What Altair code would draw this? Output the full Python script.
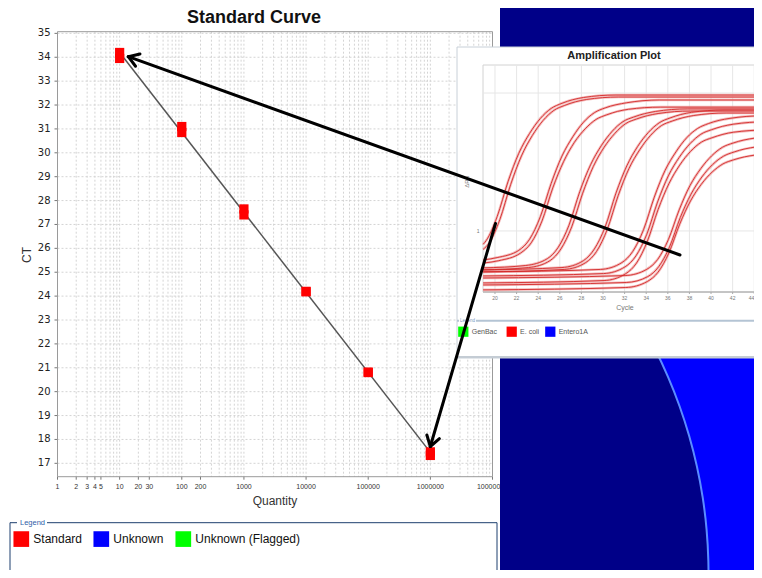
import math
import altair as alt
import numpy as np
import pandas as pd

# ---------------- data: standard curve ----------------
quantity = [10, 100, 1000, 10000, 100000, 1000000]
ct_rep1 = [34.2, 31.1, 27.65, 24.2, 20.82, 17.48]
ct_rep2 = [33.95, 30.85, 27.4, 24.18, 20.8, 17.33]
sample_types = ["Standard", "Unknown", "Unknown (Flagged)"]
type_colors = ["#ff0000", "#0000ff", "#00ff00"]
x_labelled = [1, 2, 3, 4, 5, 10, 20, 30, 100, 200, 1000, 10000, 100000, 1000000, 10000000]
x_grid = [k * 10 ** n for n in range(7) for k in range(1, 10)] + [10 ** 7]
y_ticks = list(range(17, 36))

# ---------------- data: amplification plot (inset) ----------------
amp_cycles = [
    [18.9, 19.2, 20.2, 21.2, 22.2, 23.2, 24.2, 25.2, 26.2, 28.2, 31.2, 47],
    [18.9, 19.45, 20.45, 21.45, 22.45, 23.45, 24.45, 25.45, 26.45, 28.45, 31.45, 47],
    [18.9, 20.2, 22.2, 23.2, 24.2, 25.2, 26.2, 27.2, 28.2, 29.2, 30.2, 32.2, 35.2, 47],
    [18.9, 20.35, 22.35, 23.35, 24.35, 25.35, 26.35, 27.35, 28.35, 29.35, 30.35, 32.35, 35.35, 47],
    [18.9, 22.85, 24.85, 25.85, 26.85, 27.85, 28.85, 29.85, 30.85, 31.85, 32.85, 34.85, 37.85, 47],
    [18.9, 23.1, 25.1, 26.1, 27.1, 28.1, 29.1, 30.1, 31.1, 32.1, 33.1, 35.1, 38.1, 47],
    [18.9, 26.2, 28.2, 29.2, 30.2, 31.2, 32.2, 33.2, 34.2, 35.2, 36.2, 38.2, 41.2, 47],
    [18.9, 26.4, 28.4, 29.4, 30.4, 31.4, 32.4, 33.4, 34.4, 35.4, 36.4, 38.4, 41.4, 47],
    [18.9, 29.75, 31.75, 32.75, 33.75, 34.75, 35.75, 36.75, 37.75, 38.75, 39.75, 41.75, 44.75, 47],
    [18.9, 30.05, 32.05, 33.05, 34.05, 35.05, 36.05, 37.05, 38.05, 39.05, 40.05, 42.05, 45.05, 47],
    [18.9, 30.1, 32.1, 33.1, 34.1, 35.1, 36.1, 37.1, 38.1, 39.1, 40.1, 42.1, 45.1, 47],
    [18.9, 32.05, 34.05, 35.05, 36.05, 37.05, 38.05, 39.05, 40.05, 41.05, 42.05, 44.05, 47.05],
    [18.9, 32.15, 34.15, 35.15, 36.15, 37.15, 38.15, 39.15, 40.15, 41.15, 42.15, 44.15, 47.15],
    [18.9, 32.1, 34.1, 35.1, 36.1, 37.1, 38.1, 39.1, 40.1, 41.1, 42.1, 44.1, 47.1],
]
amp_values = [
    [0.80, 0.855, 1.27, 2.27, 3.65, 5.09, 6.54, 7.73, 8.42, 9.28, 9.67, 9.67],
    [0.735, 0.816, 1.21, 2.17, 3.50, 4.91, 6.32, 7.48, 8.13, 8.97, 9.35, 9.35],
    [0.616, 0.641, 0.723, 0.87, 1.27, 2.21, 3.49, 4.81, 6.15, 7.2, 7.8, 8.5, 8.9, 8.9],
    [0.585, 0.609, 0.69, 0.82, 1.18, 2.05, 3.18, 4.39, 5.5, 6.43, 6.95, 7.62, 7.9, 7.9],
    [0.54, 0.562, 0.63, 0.76, 1.10, 1.93, 3.02, 4.16, 5.28, 6.2, 6.7, 7.35, 7.67, 7.67],
    [0.522, 0.543, 0.61, 0.74, 1.07, 1.86, 2.93, 4.04, 5.1, 6.0, 6.48, 7.1, 7.4, 7.4],
    [0.522, 0.543, 0.61, 0.74, 1.07, 1.88, 2.96, 4.09, 5.18, 6.08, 6.59, 7.24, 7.53, 7.53],
    [0.505, 0.526, 0.59, 0.71, 1.03, 1.80, 2.83, 3.88, 4.93, 5.8, 6.26, 6.87, 7.16, 7.16],
    [0.505, 0.526, 0.59, 0.71, 1.02, 1.76, 2.75, 3.74, 4.74, 5.53, 6.0, 6.55, 6.83, 6.83],
    [0.472, 0.491, 0.55, 0.66, 0.945, 1.62, 2.51, 3.41, 4.29, 5.02, 5.42, 5.94, 6.18, 6.18],
    [0.42, 0.437, 0.49, 0.585, 0.84, 1.43, 2.2, 3.0, 3.77, 4.4, 4.74, 5.2, 5.39, 5.39],
    [0.456, 0.475, 0.527, 0.62, 0.865, 1.42, 2.13, 2.83, 3.5, 4.04, 4.34, 4.71, 4.88],
    [0.406, 0.423, 0.467, 0.55, 0.763, 1.25, 1.85, 2.46, 3.03, 3.48, 3.74, 4.06, 4.2],
    [0.374, 0.389, 0.43, 0.503, 0.693, 1.12, 1.65, 2.18, 2.67, 3.06, 3.28, 3.55, 3.67],
]
amp_targets = ["GenBac", "E. coli", "Entero1A"]
amp_target_colors = ["#00ff00", "#ff0000", "#0000ff"]
cycle_ticks = list(range(20, 45, 2))
amp_grid_y = [1, 10]
amp_y_labels = [1]

# ---------------- tables ----------------
std = pd.DataFrame({"q": quantity + quantity, "ct": ct_rep1 + ct_rep2, "type": "Standard"})
mean_ct = (np.array(ct_rep1) + np.array(ct_rep2)) / 2
slope, icpt = np.polyfit(np.log10(quantity), mean_ct, 1)
fit = pd.DataFrame({"q": [quantity[0], quantity[-1]],
                    "ct": [icpt + slope * math.log10(quantity[0]), icpt + slope * math.log10(quantity[-1])]})

rows = []
for i, (cs, vs) in enumerate(zip(amp_cycles, amp_values)):
    for c, v in zip(cs, vs):
        rows.append({"curve": i, "cycle": c, "drn": v})
amp = pd.DataFrame(rows)

one = pd.DataFrame({"k": [0]})
FONT = "Liberation Sans"


def rect(x, x2, y, y2, **kw):
    return alt.Chart(one).mark_rect(**kw).encode(
        x=alt.value(x), x2=alt.value(x2), y=alt.value(y), y2=alt.value(y2))


def seg(x, y, x2, y2, **kw):
    return alt.Chart(one).mark_rule(**kw).encode(
        x=alt.value(x), y=alt.value(y), x2=alt.value(x2), y2=alt.value(y2))


def text(s, x, y, **kw):
    return alt.Chart(one).mark_text(text=s, **kw).encode(x=alt.value(x), y=alt.value(y))


# ---------------- scales ----------------
XS = alt.Scale(type="log", domain=[1, 10 ** 7], range=[49.5, 484.5], nice=False)
YS = alt.Scale(domain=[16.44, 35.07], range=[468.7, 23.7], nice=False, zero=False)
IXS = alt.Scale(domain=[18.89, 45.46], range=[475, 762], nice=False, zero=False)
IYS = alt.Scale(type="log", domain=[0.361, 15.96], range=[284, 57], nice=False)

# ---------------- main grid, ticks, labels ----------------
xg = pd.DataFrame({"q": x_grid})
yg = pd.DataFrame({"ct": y_ticks})
xl = pd.DataFrame({"q": x_labelled, "lab": [str(v) for v in x_labelled]})

main_vgrid = alt.Chart(xg).mark_rule(color="#d4d4d4", strokeDash=[2, 2], strokeWidth=1).encode(
    x=alt.X("q:Q", scale=XS, axis=None), y=alt.value(23.7), y2=alt.value(468.7))
main_hgrid = alt.Chart(yg).mark_rule(color="#d4d4d4", strokeDash=[2, 2], strokeWidth=1).encode(
    y=alt.Y("ct:Q", scale=YS, axis=None), x=alt.value(49.5), x2=alt.value(484.5))
x_tickmarks = alt.Chart(xl).mark_rule(color="#777", strokeWidth=1).encode(
    x=alt.X("q:Q", scale=XS, axis=None), y=alt.value(468.7), y2=alt.value(471.7))
x_ticklabels = alt.Chart(xl).mark_text(font=FONT, fontSize=7, color="#333", align="center",
                                       baseline="top").encode(
    x=alt.X("q:Q", scale=XS, axis=None), y=alt.value(474.5), text="lab:N")
y_tickmarks = alt.Chart(yg).mark_rule(color="#777", strokeWidth=1).encode(
    y=alt.Y("ct:Q", scale=YS, axis=None), x=alt.value(46.5), x2=alt.value(49.5))
y_ticklabels = alt.Chart(yg).mark_text(font="DejaVu Sans", fontSize=10, color="#222",
                                       align="right", baseline="middle").encode(
    y=alt.Y("ct:Q", scale=YS, axis=None), x=alt.value(42.5), text="ct:Q")

# ---------------- background ----------------
navy = rect(492, 746, 0, 562, color="#000088")
bright = alt.Chart(one).mark_arc(radius=1400, radius2=495, theta=1.10, theta2=3.14,
                                 color="#0000ff").encode(x=alt.value(205), y=alt.value(565))
arcline = alt.Chart(one).mark_arc(radius=496.5, radius2=494.5, theta=1.10, theta2=3.14,
                                  color="#5a8cff").encode(x=alt.value(205), y=alt.value(565))

# ---------------- main standard curve ----------------
frame = rect(49.5, 484.5, 23.7, 468.7, fillOpacity=0, stroke="#9a9a9a", strokeWidth=1)
fit_line = alt.Chart(fit).mark_line(color="#555555", strokeWidth=1.5).encode(
    x=alt.X("q:Q", scale=XS, axis=None), y=alt.Y("ct:Q", scale=YS, axis=None))
points = alt.Chart(std).mark_square(size=85, opacity=1).encode(
    x=alt.X("q:Q", scale=XS, axis=None),
    y=alt.Y("ct:Q", scale=YS, axis=None),
    color=alt.Color("type:N", scale=alt.Scale(domain=sample_types, range=type_colors),
                    legend=alt.Legend(orient="none", legendX=5.3, legendY=523,
                                      direction="horizontal", title=None,
                                      symbolType="square", symbolSize=246,
                                      symbolStrokeWidth=0, symbolOpacity=1,
                                      labelFont=FONT, labelFontSize=12, labelColor="#111",
                                      labelOffset=4, columnPadding=11, padding=0)))

# ---------------- inset amplification plot ----------------
panel = rect(449, 760, 39, 350, color="white", stroke="#c8d0d8", strokeWidth=1)
iframe = rect(475, 770, 57, 284, fillOpacity=0, stroke="#d2d2d2", strokeWidth=1)
ct_df = pd.DataFrame({"c": cycle_ticks, "lab": [str(c) for c in cycle_ticks]})
vgrid = alt.Chart(ct_df).mark_rule(color="#e6e6e6", strokeWidth=1).encode(
    x=alt.X("c:Q", scale=IXS, axis=None), y=alt.value(57), y2=alt.value(284))
hgrid = alt.Chart(pd.DataFrame({"v": amp_grid_y})).mark_rule(color="#e6e6e6", strokeWidth=1).encode(
    y=alt.Y("v:Q", scale=IYS, axis=None), x=alt.value(475), x2=alt.value(762))
ibase = seg(475, 284, 762, 284, color="#a0a0a0", strokeWidth=1)
itickmarks = alt.Chart(ct_df).mark_rule(color="#aaa", strokeWidth=1).encode(
    x=alt.X("c:Q", scale=IXS, axis=None), y=alt.value(284), y2=alt.value(286))
iticklabels = alt.Chart(ct_df[ct_df.c < 44]).mark_text(
    font=FONT, fontSize=5, color="#777", align="center", baseline="top").encode(
    x=alt.X("c:Q", scale=IXS, axis=None), y=alt.value(288), text="lab:N")
iticklast = alt.Chart(ct_df[ct_df.c == 44]).mark_text(
    font=FONT, fontSize=5, color="#777", align="right", baseline="top").encode(
    x=alt.X("c:Q", scale=IXS, axis=None), y=alt.value(288), text="lab:N")
iylabels = alt.Chart(pd.DataFrame({"v": amp_y_labels})).mark_text(
    font=FONT, fontSize=5, color="#777", align="right", baseline="middle").encode(
    y=alt.Y("v:Q", scale=IYS, axis=None), x=alt.value(471.5), text="v:Q")
halo = alt.Chart(amp).mark_line(interpolate="monotone", color="#eea0a0", strokeWidth=2.6,
                                opacity=0.7).encode(
    x=alt.X("cycle:Q", scale=IXS, axis=None), y=alt.Y("drn:Q", scale=IYS, axis=None),
    detail="curve:N")
core = alt.Chart(amp).mark_line(interpolate="monotone", color="#d42a2a", strokeWidth=1.0,
                                opacity=0.9).encode(
    x=alt.X("cycle:Q", scale=IXS, axis=None), y=alt.Y("drn:Q", scale=IYS, axis=None),
    detail="curve:N")

inset_deco = [
    text("Amplification Plot", 606, 51.3, font=FONT, fontSize=11, fontWeight="bold",
         color="#222", align="center", baseline="alphabetic"),
    text("ΔRn", 459, 174, font=FONT, fontSize=6, color="#777", angle=270,
         align="center", baseline="middle"),
    text("Cycle", 617, 300, font=FONT, fontSize=7, color="#777", align="center", baseline="middle"),
    seg(449, 312.7, 746, 312.7, color="#b4c4d4", strokeWidth=2),
    seg(449, 349, 746, 349, color="#c4ccd4", strokeWidth=2),
    rect(451, 468, 309, 316, color="white"),
    text("Legend", 452, 312.7, font=FONT, fontSize=4.5, color="#7a9ac0",
         align="left", baseline="middle"),
]
leg_x = [455.3, 503.7, 542.3]
for name, col, lx in zip(amp_targets, amp_target_colors, leg_x):
    inset_deco.append(alt.Chart(one).mark_square(size=105, color=col, opacity=1).encode(
        x=alt.value(lx), y=alt.value(323.7)))
    inset_deco.append(text(name, lx + 8.4, 324, font=FONT, fontSize=7, color="#555",
                           align="left", baseline="middle"))

# ---------------- arrows ----------------
arrows = []
for tail, tip in [((672, 247), (120.3, 48.7)), ((487.5, 215.5), (422.3, 438.5))]:
    tx, ty = tail
    px, py = tip
    arrows.append(seg(tx, ty, px, py, color="black", strokeWidth=3, strokeCap="round"))
    d = math.hypot(tx - px, ty - py)
    bx, by = (tx - px) / d, (ty - py) / d
    for s in (1, -1):
        a = math.radians(33) * s
        wx = bx * math.cos(a) - by * math.sin(a)
        wy = bx * math.sin(a) + by * math.cos(a)
        arrows.append(seg(px, py, px + 12 * wx, py + 12 * wy, color="black",
                          strokeWidth=3, strokeCap="round"))

# ---------------- main texts / legend frame ----------------
main_deco = [
    text("Standard Curve", 246, 14.7, font=FONT, fontSize=18, fontWeight="bold",
         color="#111", align="center", baseline="alphabetic"),
    text("CT", 19, 247, font=FONT, fontSize=12, color="#333", angle=270,
         align="center", baseline="middle"),
    text("Quantity", 267, 496.6, font=FONT, fontSize=12, color="#333",
         align="center", baseline="alphabetic"),
    rect(2, 489, 514.7, 620, fillOpacity=0, stroke="#1d3f6e", strokeWidth=1),
    rect(9, 39, 510, 519, color="white"),
    text("Legend", 12, 514.7, font=FONT, fontSize=7.5, color="#3060a8",
         align="left", baseline="middle"),
]

chart = alt.layer(
    main_vgrid, main_hgrid, x_tickmarks, x_ticklabels, y_tickmarks, y_ticklabels,
    navy, bright, arcline,
    frame, fit_line, points,
    panel, iframe, vgrid, hgrid, ibase, itickmarks, iticklabels, iticklast, iylabels, halo, core,
    *inset_deco, *arrows, *main_deco
).resolve_scale(x="independent", y="independent").properties(
    width=746, height=562, padding=0,
    autosize=alt.AutoSizeParams(type="none"), background="white"
).configure_view(stroke=None)

chart.save("out.html", embed_options={"renderer": "svg", "actions": False})
